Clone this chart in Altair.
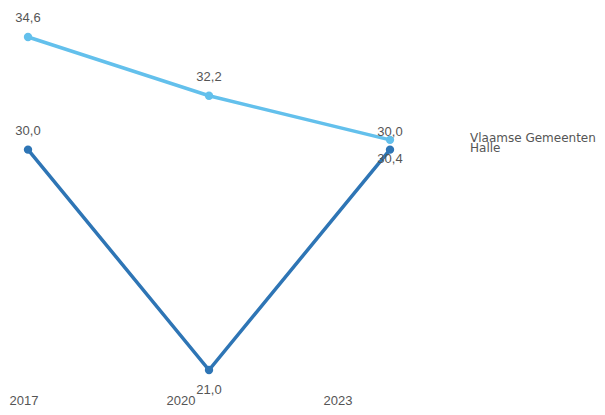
import altair as alt
import pandas as pd

years = ["2017", "2020", "2023"]
series_names = ["Vlaamse Gemeenten", "Halle"]
vlaams = [34.6, 32.2, 30.4]
halle = [30.0, 21.0, 30.0]
vlaams_labels = ["34,6", "32,2", "30,0"]
halle_labels = ["30,0", "21,0", "30,4"]
vlaams_pos = ["above", "above", "near_above"]
halle_pos = ["above", "below", "near_below"]
colors = ["#63C0EC", "#2E75B5"]

rows = []
for y, v, l, p in zip(years, vlaams, vlaams_labels, vlaams_pos):
    rows.append({"jaar": y, "reeks": series_names[0], "waarde": v, "label": l, "pos": p})
for y, v, l, p in zip(years, halle, halle_labels, halle_pos):
    rows.append({"jaar": y, "reeks": series_names[1], "waarde": v, "label": l, "pos": p})
df = pd.DataFrame(rows)
df_years = pd.DataFrame({"jaar": years})

TEXT_COLOR = "#555555"
FONT = "Liberation Sans"

x_enc = alt.X("jaar:O", scale=alt.Scale(type="point", range=[20, 382], padding=0), axis=None)
y_enc = alt.Y("waarde:Q", scale=alt.Scale(zero=False, nice=False, range=[362, 29]), axis=None)
color_enc = alt.Color(
    "reeks:N",
    scale=alt.Scale(domain=series_names, range=colors),
    legend=None,
)

base = alt.Chart(df).encode(x=x_enc, y=y_enc)

lines = base.mark_line(strokeWidth=3.5).encode(color=color_enc, detail="reeks:N")
points = base.mark_point(filled=True, size=70, opacity=1).encode(color=color_enc)

def labels(pos, dy):
    return base.mark_text(
        dy=dy, fontSize=13, color=TEXT_COLOR, font=FONT, baseline="middle"
    ).encode(text="label:N").transform_filter(alt.datum.pos == pos)

lbl = (
    labels("above", -19)
    + labels("below", 20)
    + labels("near_above", -8)
    + labels("near_below", 9)
)

end_labels = base.mark_text(
    align="left", baseline="middle", dx=80, dy=-2, fontSize=12,
    font="DejaVu Sans", color=TEXT_COLOR,
).encode(text="reeks:N").transform_filter(alt.datum.jaar == years[-1])

main = alt.layer(lines, points, lbl, end_labels)

year_labels = alt.Chart(df_years).mark_text(
    fontSize=13, color=TEXT_COLOR, font=FONT, baseline="alphabetic"
).encode(
    x=alt.X("jaar:O", scale=alt.Scale(type="point", range=[16, 330], padding=0), axis=None),
    y=alt.value(397),
    text="jaar:N",
)

chart = alt.layer(main, year_labels).resolve_scale(x="independent").properties(
    width=589, height=399, padding=0, autosize=alt.AutoSizeParams(type="none"),
    background="white",
).configure_view(stroke=None)

chart.save("out.html", embed_options={"renderer": "svg", "actions": False})
